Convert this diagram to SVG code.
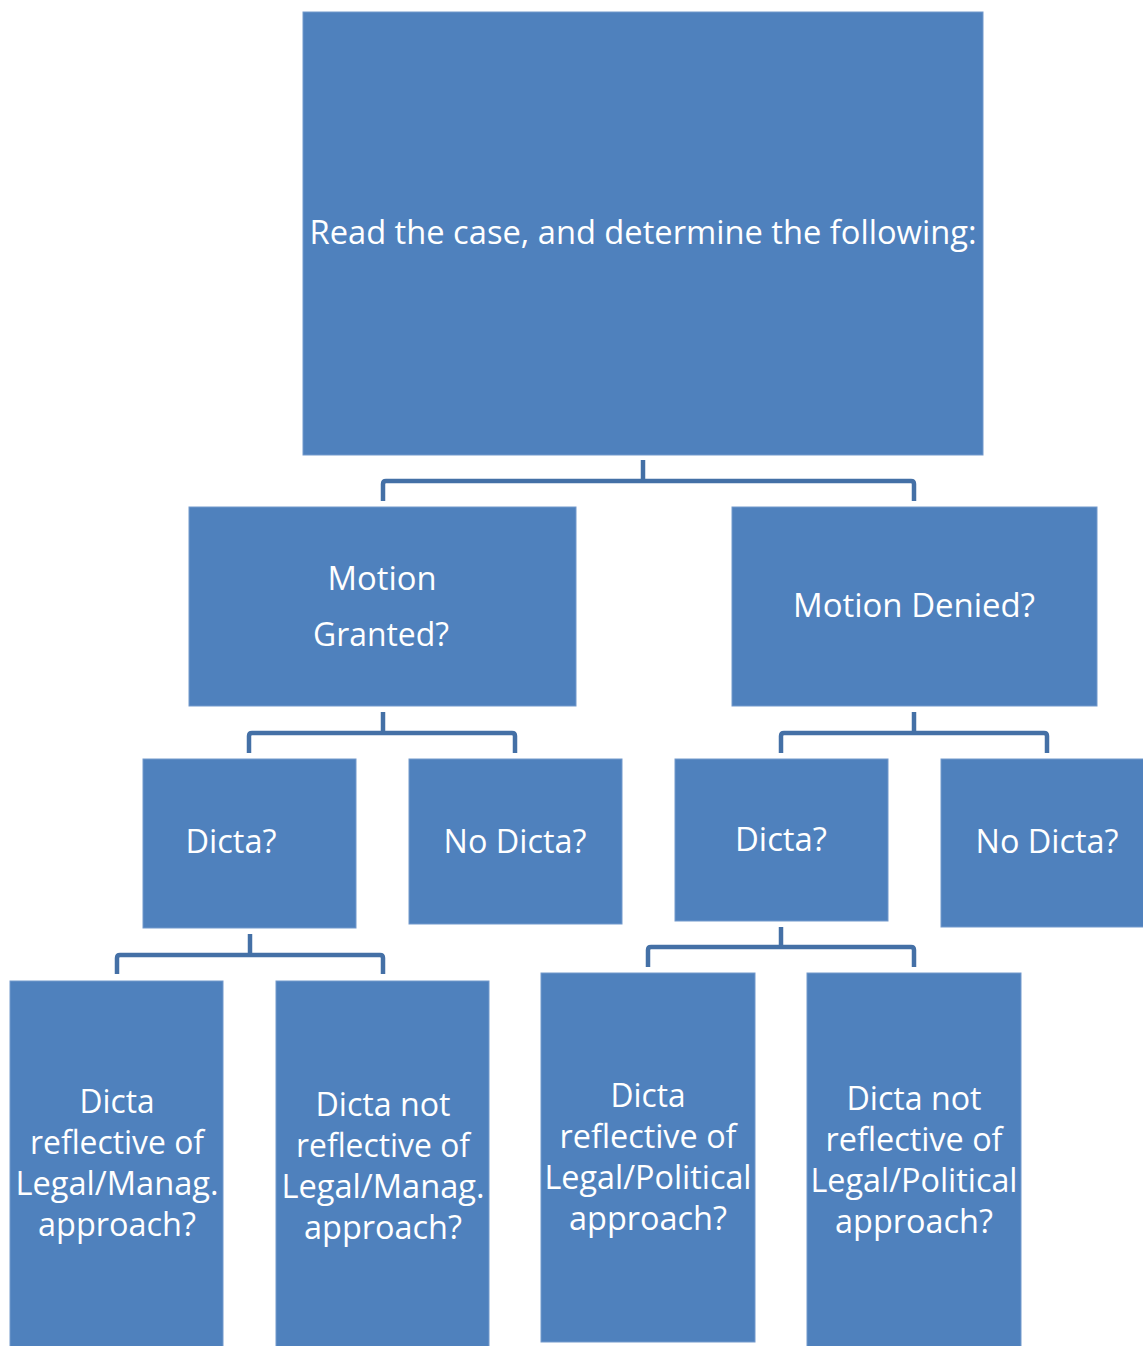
<svg xmlns="http://www.w3.org/2000/svg" width="1143" height="1346" viewBox="0 0 1143 1346">
<style>
.box{fill:#4F81BD;stroke:#7399cc;stroke-width:1}
.t{font-family:"Open Sans","Liberation Sans",sans-serif;font-size:32px;fill:#ffffff;text-anchor:middle}
.c{fill:none;stroke:#4470A6;stroke-width:4.5;stroke-linejoin:round}
</style>
<rect width="1143" height="1346" fill="#ffffff"/>
<g id="connectors">
<path class="c" d="M643,460 V481"/>
<path class="c" d="M383,501 V484 Q383,481 386,481 H911 Q914,481 914,484 V501"/>
<path class="c" d="M383,712 V733"/>
<path class="c" d="M249,753 V736 Q249,733 252,733 H512 Q515,733 515,736 V753"/>
<path class="c" d="M914,712 V733"/>
<path class="c" d="M781,753 V736 Q781,733 784,733 H1044 Q1047,733 1047,736 V753"/>
<path class="c" d="M250,934 V955"/>
<path class="c" d="M117,974 V958 Q117,955 120,955 H380 Q383,955 383,958 V974"/>
<path class="c" d="M781,927 V947"/>
<path class="c" d="M648,967 V950 Q648,947 651,947 H911 Q914,947 914,950 V967"/>
</g>
<g id="n-root">
<rect class="box" x="303" y="12" width="680" height="443"/>
<text class="t" x="643" y="244" textLength="667" lengthAdjust="spacingAndGlyphs">Read the case, and determine the following:</text>
</g>
<g id="n-granted">
<rect class="box" x="189" y="507" width="387" height="199"/>
<text class="t" x="382" y="590" textLength="109" lengthAdjust="spacingAndGlyphs">Motion</text>
<text class="t" x="381" y="646" textLength="136" lengthAdjust="spacingAndGlyphs">Granted?</text>
</g>
<g id="n-denied">
<rect class="box" x="732" y="507" width="365" height="199"/>
<text class="t" x="914" y="617" textLength="242" lengthAdjust="spacingAndGlyphs">Motion Denied?</text>
</g>
<g id="n-dicta-l">
<rect class="box" x="143" y="759" width="213" height="169"/>
<text class="t" x="231" y="853" textLength="91" lengthAdjust="spacingAndGlyphs">Dicta?</text>
</g>
<g id="n-nodicta-l">
<rect class="box" x="409" y="759" width="213" height="165"/>
<text class="t" x="515" y="853" textLength="143" lengthAdjust="spacingAndGlyphs">No Dicta?</text>
</g>
<g id="n-dicta-r">
<rect class="box" x="675" y="759" width="213" height="162"/>
<text class="t" x="781" y="851" textLength="92" lengthAdjust="spacingAndGlyphs">Dicta?</text>
</g>
<g id="n-nodicta-r">
<rect class="box" x="941" y="759" width="210" height="168"/>
<text class="t" x="1047" y="853" textLength="143" lengthAdjust="spacingAndGlyphs">No Dicta?</text>
</g>
<g id="n-leaf1">
<rect class="box" x="10" y="981" width="213" height="370"/>
<text class="t" x="117" y="1113" textLength="75" lengthAdjust="spacingAndGlyphs">Dicta</text>
<text class="t" x="117" y="1154" textLength="174" lengthAdjust="spacingAndGlyphs">reflective of</text>
<text class="t" x="117" y="1195" textLength="203" lengthAdjust="spacingAndGlyphs">Legal/Manag.</text>
<text class="t" x="117" y="1236" textLength="158" lengthAdjust="spacingAndGlyphs">approach?</text>
</g>
<g id="n-leaf2">
<rect class="box" x="276" y="981" width="213" height="370"/>
<text class="t" x="383" y="1116" textLength="135" lengthAdjust="spacingAndGlyphs">Dicta not</text>
<text class="t" x="383" y="1157" textLength="174" lengthAdjust="spacingAndGlyphs">reflective of</text>
<text class="t" x="383" y="1198" textLength="203" lengthAdjust="spacingAndGlyphs">Legal/Manag.</text>
<text class="t" x="383" y="1239" textLength="158" lengthAdjust="spacingAndGlyphs">approach?</text>
</g>
<g id="n-leaf3">
<rect class="box" x="541" y="973" width="214" height="369"/>
<text class="t" x="648" y="1107" textLength="75" lengthAdjust="spacingAndGlyphs">Dicta</text>
<text class="t" x="648" y="1148" textLength="177" lengthAdjust="spacingAndGlyphs">reflective of</text>
<text class="t" x="648" y="1189" textLength="207" lengthAdjust="spacingAndGlyphs">Legal/Political</text>
<text class="t" x="648" y="1230" textLength="158" lengthAdjust="spacingAndGlyphs">approach?</text>
</g>
<g id="n-leaf4">
<rect class="box" x="807" y="973" width="214" height="378"/>
<text class="t" x="914" y="1110" textLength="135" lengthAdjust="spacingAndGlyphs">Dicta not</text>
<text class="t" x="914" y="1151" textLength="177" lengthAdjust="spacingAndGlyphs">reflective of</text>
<text class="t" x="914" y="1192" textLength="207" lengthAdjust="spacingAndGlyphs">Legal/Political</text>
<text class="t" x="914" y="1233" textLength="158" lengthAdjust="spacingAndGlyphs">approach?</text>
</g>
</svg>
